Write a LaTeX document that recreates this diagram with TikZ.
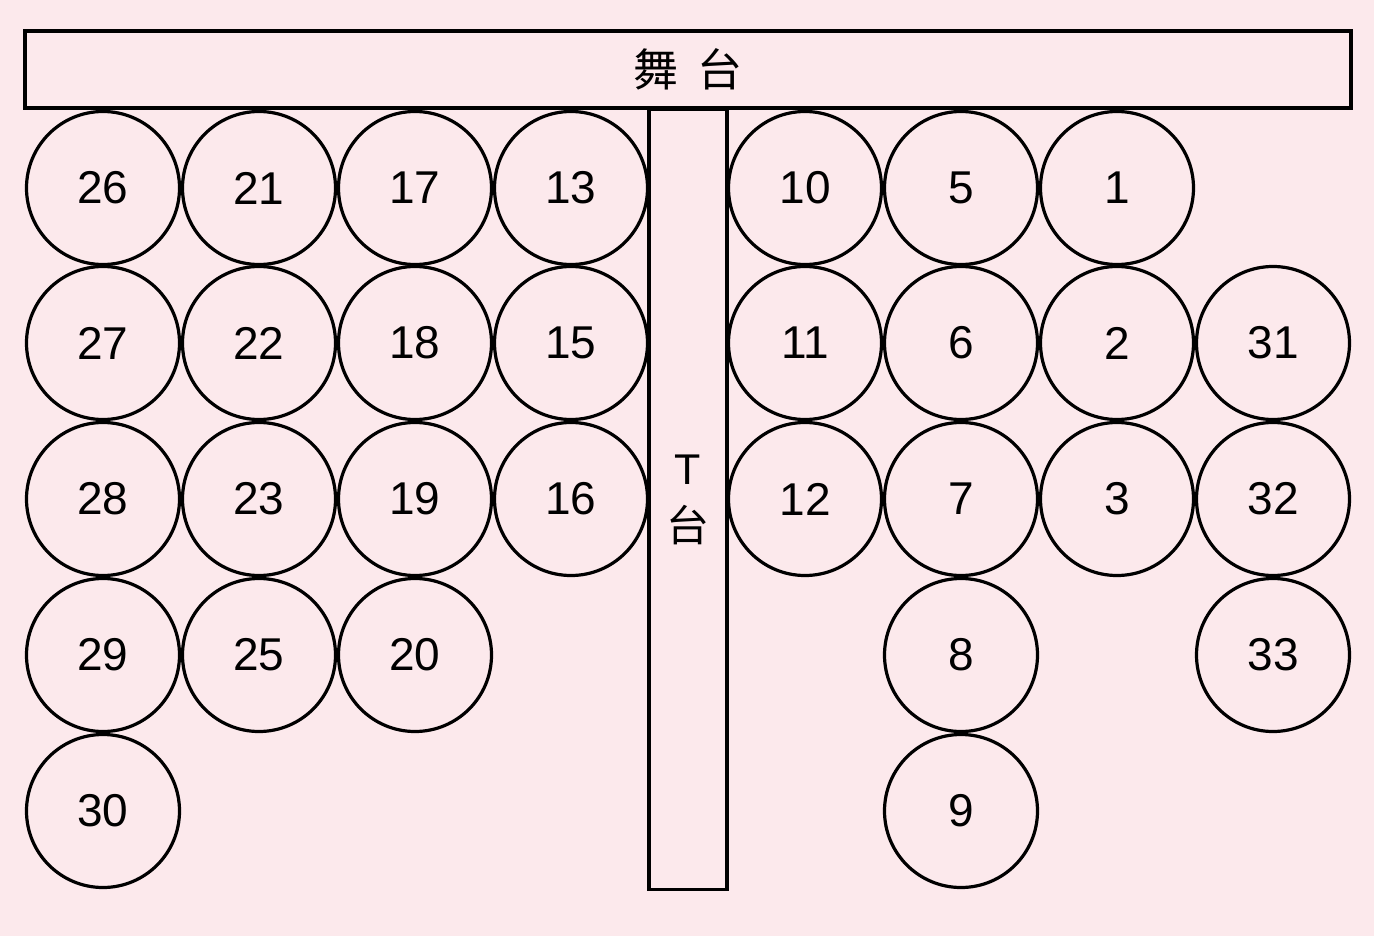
\documentclass[tikz,border=0pt]{standalone}
\usepackage{fontspec}
\setmainfont{Liberation Sans}
\newfontfamily\cjk{Noto Sans CJK SC}
\definecolor{bgpink}{RGB}{252,233,236}
\begin{document}
\begin{tikzpicture}[x=1pt,y=-1pt,
  seat/.style={draw=black,line width=3.2pt,circle,minimum size=153pt,inner sep=0pt,
    font=\fontsize{46}{50}\selectfont},
  plat/.style={draw=black,line width=3.2pt,inner sep=0pt}]
\fill[bgpink] (0,0) rectangle (1374,936);
\useasboundingbox (0,0) rectangle (1374,936);
% stage
\node[plat,minimum width=1326pt,minimum height=77pt,
  font=\fontsize{45}{50}\selectfont\cjk] (stage) at (688,69.5) {舞\hspace{20pt}台};
% T platform
\node[plat,minimum width=78pt,minimum height=780pt,anchor=north] (tplat) at (688,108) {};
\node[inner sep=0pt,align=center,font=\fontsize{43}{57}\selectfont] (tlabel) at (688,500) {T\\{\cjk 台}};
% seats
\foreach \n/\x/\y in {26/103/188,21/259/188,17/415/188,13/571/188,10/805/188,5/961/188,1/1117/188,
  27/103/343,22/259/343,18/415/343,15/571/343,11/805/343,6/961/343,2/1117/343,31/1273/343,
  28/103/499,23/259/499,19/415/499,16/571/499,12/805/499,7/961/499,3/1117/499,32/1273/499,
  29/103/655,25/259/655,20/415/655,8/961/655,33/1273/655,
  30/103/811,9/961/811}
  \node[seat] (s\n) at (\x,\y) {\n};
\end{tikzpicture}
\end{document}
